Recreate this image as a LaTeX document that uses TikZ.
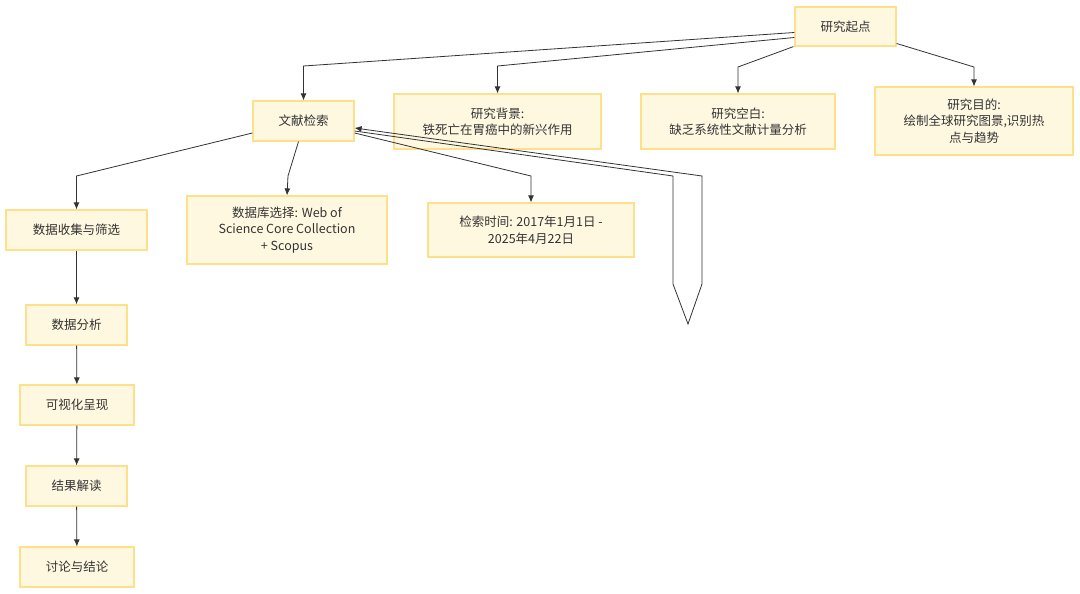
\documentclass[tikz,border=0pt]{standalone}
\usepackage{fontspec}
\setmainfont{Noto Sans CJK SC}
\usetikzlibrary{arrows.meta}
\definecolor{boxfill}{HTML}{FFF8E1}
\definecolor{boxline}{HTML}{FFE08A}
\definecolor{txt}{HTML}{333333}
\definecolor{ln}{HTML}{333333}
\tikzset{
  box/.style={draw=boxline, fill=boxfill, line width=1.2pt, align=center, text=txt,
    inner sep=2pt, font=\fontsize{12.5}{16.5}\selectfont},
  arr/.style={draw=ln, line width=0.8pt, -{Latex[length=7pt,width=6pt]}},
}
\begin{document}
\begin{tikzpicture}[x=1pt,y=-1pt]
\useasboundingbox[fill=white] (0,0) rectangle (1080,594);
% nodes
\node[box, minimum width=101pt, minimum height=39pt] (qd) at (845.5,26.5) {研究起点};
\node[box, minimum width=101pt, minimum height=40pt] (wx) at (303.5,121) {文献检索};
\node[box, minimum width=207pt, minimum height=55pt] (bj) at (497.5,121.5) {研究背景:\\铁死亡在胃癌中的新兴作用};
\node[box, minimum width=194pt, minimum height=55pt] (kb) at (738,121.5) {研究空白:\\缺乏系统性文献计量分析};
\node[box, minimum width=198pt, minimum height=68pt] (md) at (974,121) {研究目的:\\绘制全球研究图景,识别热\\点与趋势};
\node[box, minimum width=141pt, minimum height=40pt] (sj) at (76.5,230) {数据收集与筛选};
\node[box, minimum width=200pt, minimum height=68pt] (sk) at (287,230) {数据库选择: Web of\\Science Core Collection\\+ Scopus};
\node[box, minimum width=206pt, minimum height=54pt] (js) at (531,230) {检索时间: 2017年1月1日 -\\2025年4月22日};
\node[box, minimum width=101pt, minimum height=40pt] (fx) at (76.5,325) {数据分析};
\node[box, minimum width=114pt, minimum height=40pt] (ks) at (77,405) {可视化呈现};
\node[box, minimum width=101pt, minimum height=40pt] (jg) at (76.5,486) {结果解读};
\node[box, minimum width=114pt, minimum height=40pt] (tl) at (77,567) {讨论与结论};
% connectors from qd
\draw[arr] ([yshift=-6pt]qd.west) -- (303.5,66) -- (wx.north);
\draw[arr] ([yshift=-11pt]qd.west) -- (497.5,66) -- (bj.north);
\draw[arr] ([xshift=-1pt]qd.south west) -- (738,67) -- (kb.north);
\draw[arr] ([yshift=-17pt]qd.east) -- (974,67) -- (md.north);
% connectors from wx
\draw[arr] ([yshift=-12pt]wx.west) -- (76.5,176) -- (sj.north);
\draw[arr] ([xshift=-5pt]wx.south) -- (288,176) -- (sk.north);
\draw[arr] ([yshift=-12pt]wx.east) -- (531,176) -- (js.north);
% loop connector
\coordinate (tip) at (688,324);
\draw[arr] ([yshift=-10pt]wx.east) -- (673,176) -- (673,284) -- (tip) -- (702,284) -- (702,176) -- ([yshift=-7pt]wx.east);
% vertical chain
\draw[arr] (sj) -- (fx);
\draw[arr] (fx) -- (ks);
\draw[arr] (ks) -- (jg);
\draw[arr] (jg) -- (tl);
\end{tikzpicture}
\end{document}
